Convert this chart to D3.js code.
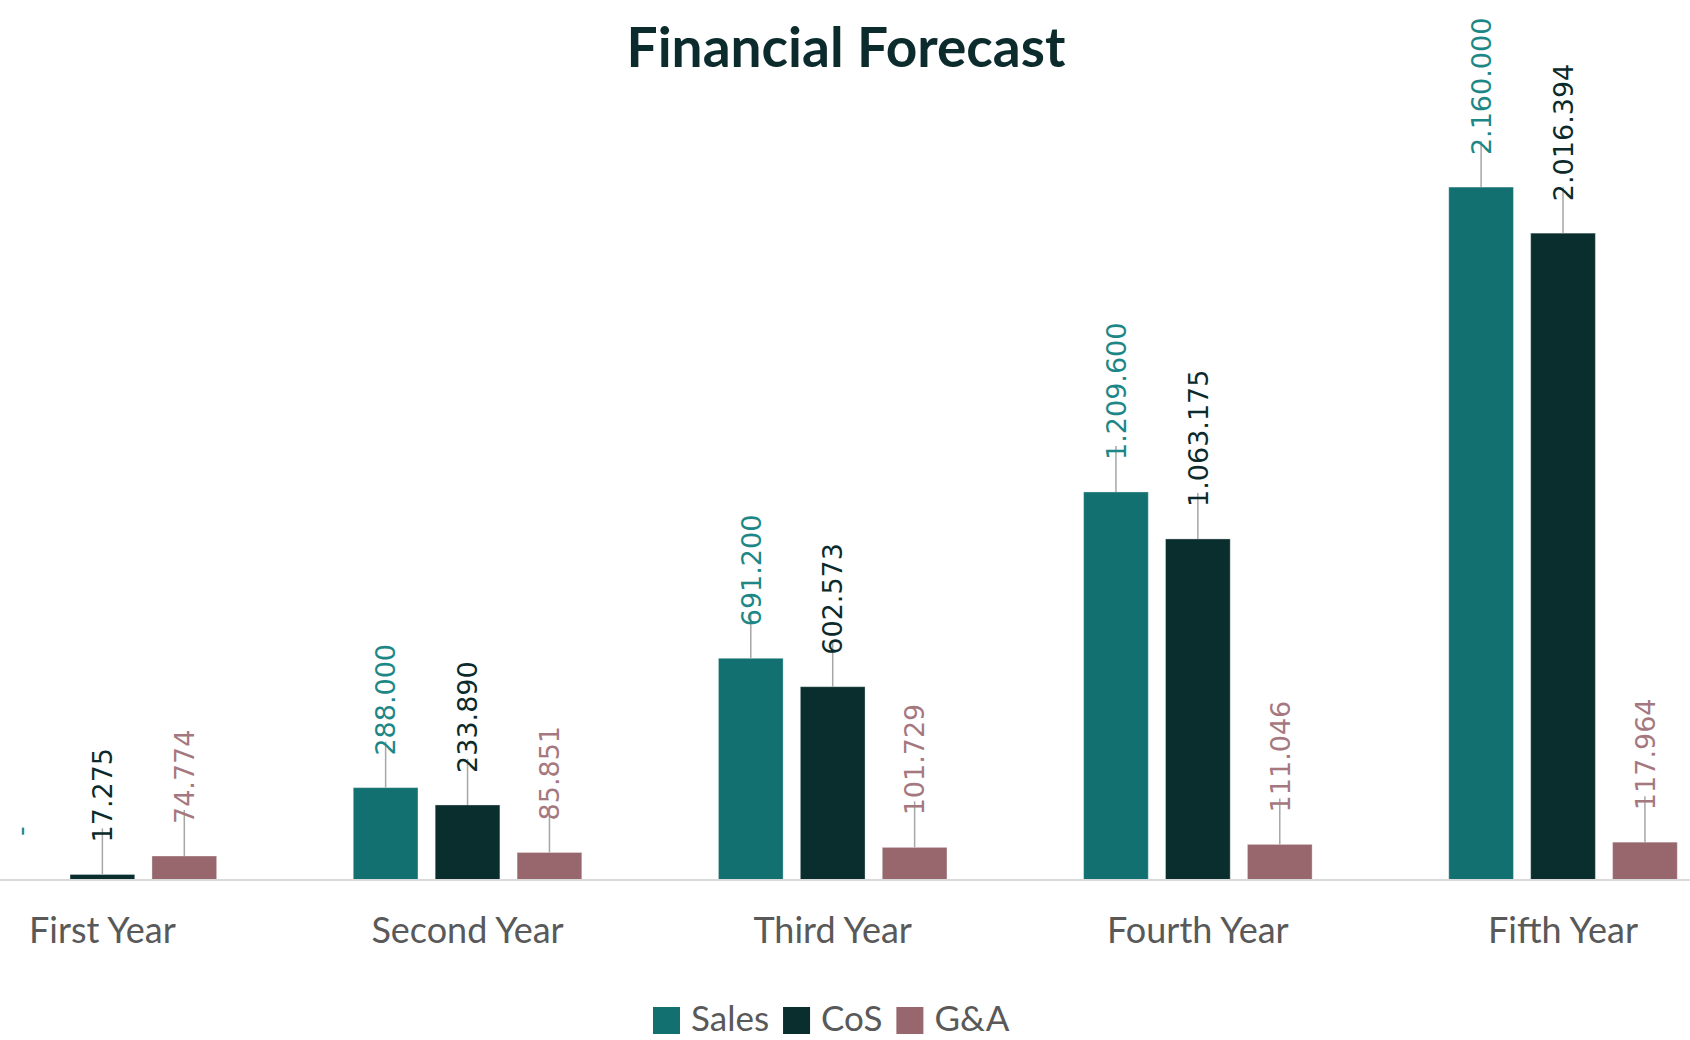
<!DOCTYPE html>
<html>
<head>
<meta charset="utf-8">
<script src="https://cdn.jsdelivr.net/npm/d3@7"></script>
<style>
  body { margin: 0; background: #fff; }
</style>
</head>
<body>
<div id="chart"></div>
<script>
var w = 1690;
var h = 1040;

// data
var years = ["First Year", "Second Year", "Third Year", "Fourth Year", "Fifth Year"];
var seriesNames = ["Sales", "CoS", "G&A"];
var sales = [0, 288000, 691200, 1209600, 2160000];
var cos = [17275, 233890, 602573, 1063175, 2016394];
var ga = [74774, 85851, 101729, 111046, 117964];

var barColors = ["#127170", "#0a2d2d", "#97676d"];
var labelColors = ["#1c8786", "#0b2a2b", "#a57880"];

var rows = years.map(function(y, i) {
  return { year: y, values: [sales[i], cos[i], ga[i]] };
});

// european number format, zero shown as a dash
var loc = d3.formatLocale({ decimal: ",", thousands: ".", grouping: [3], currency: ["", ""] });
var fmt = loc.format(",.0f");
function label(v) { return v === 0 ? "-" : fmt(v); }

var svg = d3.select("#chart")
  .append("svg")
  .attr("width", w)
  .attr("height", h);

// plot area runs past both edges of the picture, like the original crop
var x0 = d3.scaleBand().domain(years).range([-80.2, 1745.6])
  .paddingInner(0.327).paddingOuter(0.1635);
var x1 = d3.scaleBand().domain(seriesNames).range([0, x0.bandwidth()])
  .paddingInner(0.21).paddingOuter(0.105);
var y = d3.scaleLinear().domain([0, 2500000]).range([880, 78]);

// title
svg.append("text")
  .attr("x", 846)
  .attr("y", 67)
  .attr("text-anchor", "middle")
  .style("font-family", "Lato, 'Open Sans', sans-serif")
  .style("font-weight", "bold")
  .style("font-size", "55px")
  .style("fill", "#0b2b2d")
  .text("Financial Forecast");

// bars
var groups = svg.selectAll("g.year")
  .data(rows)
  .enter().append("g")
  .attr("class", "year")
  .attr("transform", function(d) { return "translate(" + x0(d.year) + ",0)"; });

var cells = groups.selectAll("g.cell")
  .data(function(d) {
    return d.values.map(function(v, i) { return { name: seriesNames[i], idx: i, value: v }; });
  })
  .enter().append("g")
  .attr("class", "cell");

cells.append("rect")
  .attr("x", function(d) { return x1(d.name); })
  .attr("y", function(d) { return y(d.value); })
  .attr("width", x1.bandwidth())
  .attr("height", function(d) { return y(0) - y(d.value); })
  .attr("fill", function(d) { return barColors[d.idx]; })
  .attr("stroke", "rgba(255,255,255,0.35)")
  .attr("stroke-width", 1);

// axis line
svg.append("line")
  .attr("x1", 0).attr("x2", w)
  .attr("y1", y(0)).attr("y2", y(0))
  .attr("stroke", "#d9d9d9")
  .attr("stroke-width", 2);

// leader lines
var gap = 32;
cells.filter(function(d) { return d.value > 0; })
  .append("line")
  .attr("x1", function(d) { return x1(d.name) + x1.bandwidth() / 2; })
  .attr("x2", function(d) { return x1(d.name) + x1.bandwidth() / 2; })
  .attr("y1", function(d) { return y(d.value); })
  .attr("y2", function(d) { return y(d.value) - gap - 14; })
  .attr("stroke", "#a6a6a6")
  .attr("stroke-width", 1.5);

// rotated value labels
cells.append("text")
  .attr("transform", function(d) {
    var cx = x1(d.name) + x1.bandwidth() / 2;
    var cy = d.value === 0 ? y(0) - 44 : y(d.value) - gap;
    return "translate(" + cx + "," + cy + ") rotate(-90)";
  })
  .attr("text-anchor", "start")
  .attr("dy", "0.36em")
  .style("font-family", "'DejaVu Sans', sans-serif")
  .style("font-size", "27px")
  .style("fill", function(d) { return labelColors[d.idx]; })
  .text(function(d) { return label(d.value); });

// category labels
svg.selectAll("text.cat")
  .data(years)
  .enter().append("text")
  .attr("class", "cat")
  .attr("x", function(d) { return x0(d) + x0.bandwidth() / 2; })
  .attr("y", 943)
  .attr("text-anchor", "middle")
  .style("font-family", "Lato, 'Open Sans', sans-serif")
  .style("font-size", "36px")
  .style("fill", "#595959")
  .text(function(d) { return d; });

// legend
var legend = svg.append("g").attr("transform", "translate(653,1020)");
var lx = 0;
seriesNames.forEach(function(name, i) {
  legend.append("rect")
    .attr("x", lx).attr("y", -13)
    .attr("width", 27).attr("height", 27)
    .attr("fill", barColors[i]);
  var t = legend.append("text")
    .attr("x", lx + 38)
    .attr("y", 11)
    .style("font-family", "Lato, 'Open Sans', sans-serif")
    .style("font-size", "35px")
    .style("fill", "#595959")
    .text(name);
  lx += 38 + t.node().getComputedTextLength() + 14;
});
</script>
</body>
</html>
